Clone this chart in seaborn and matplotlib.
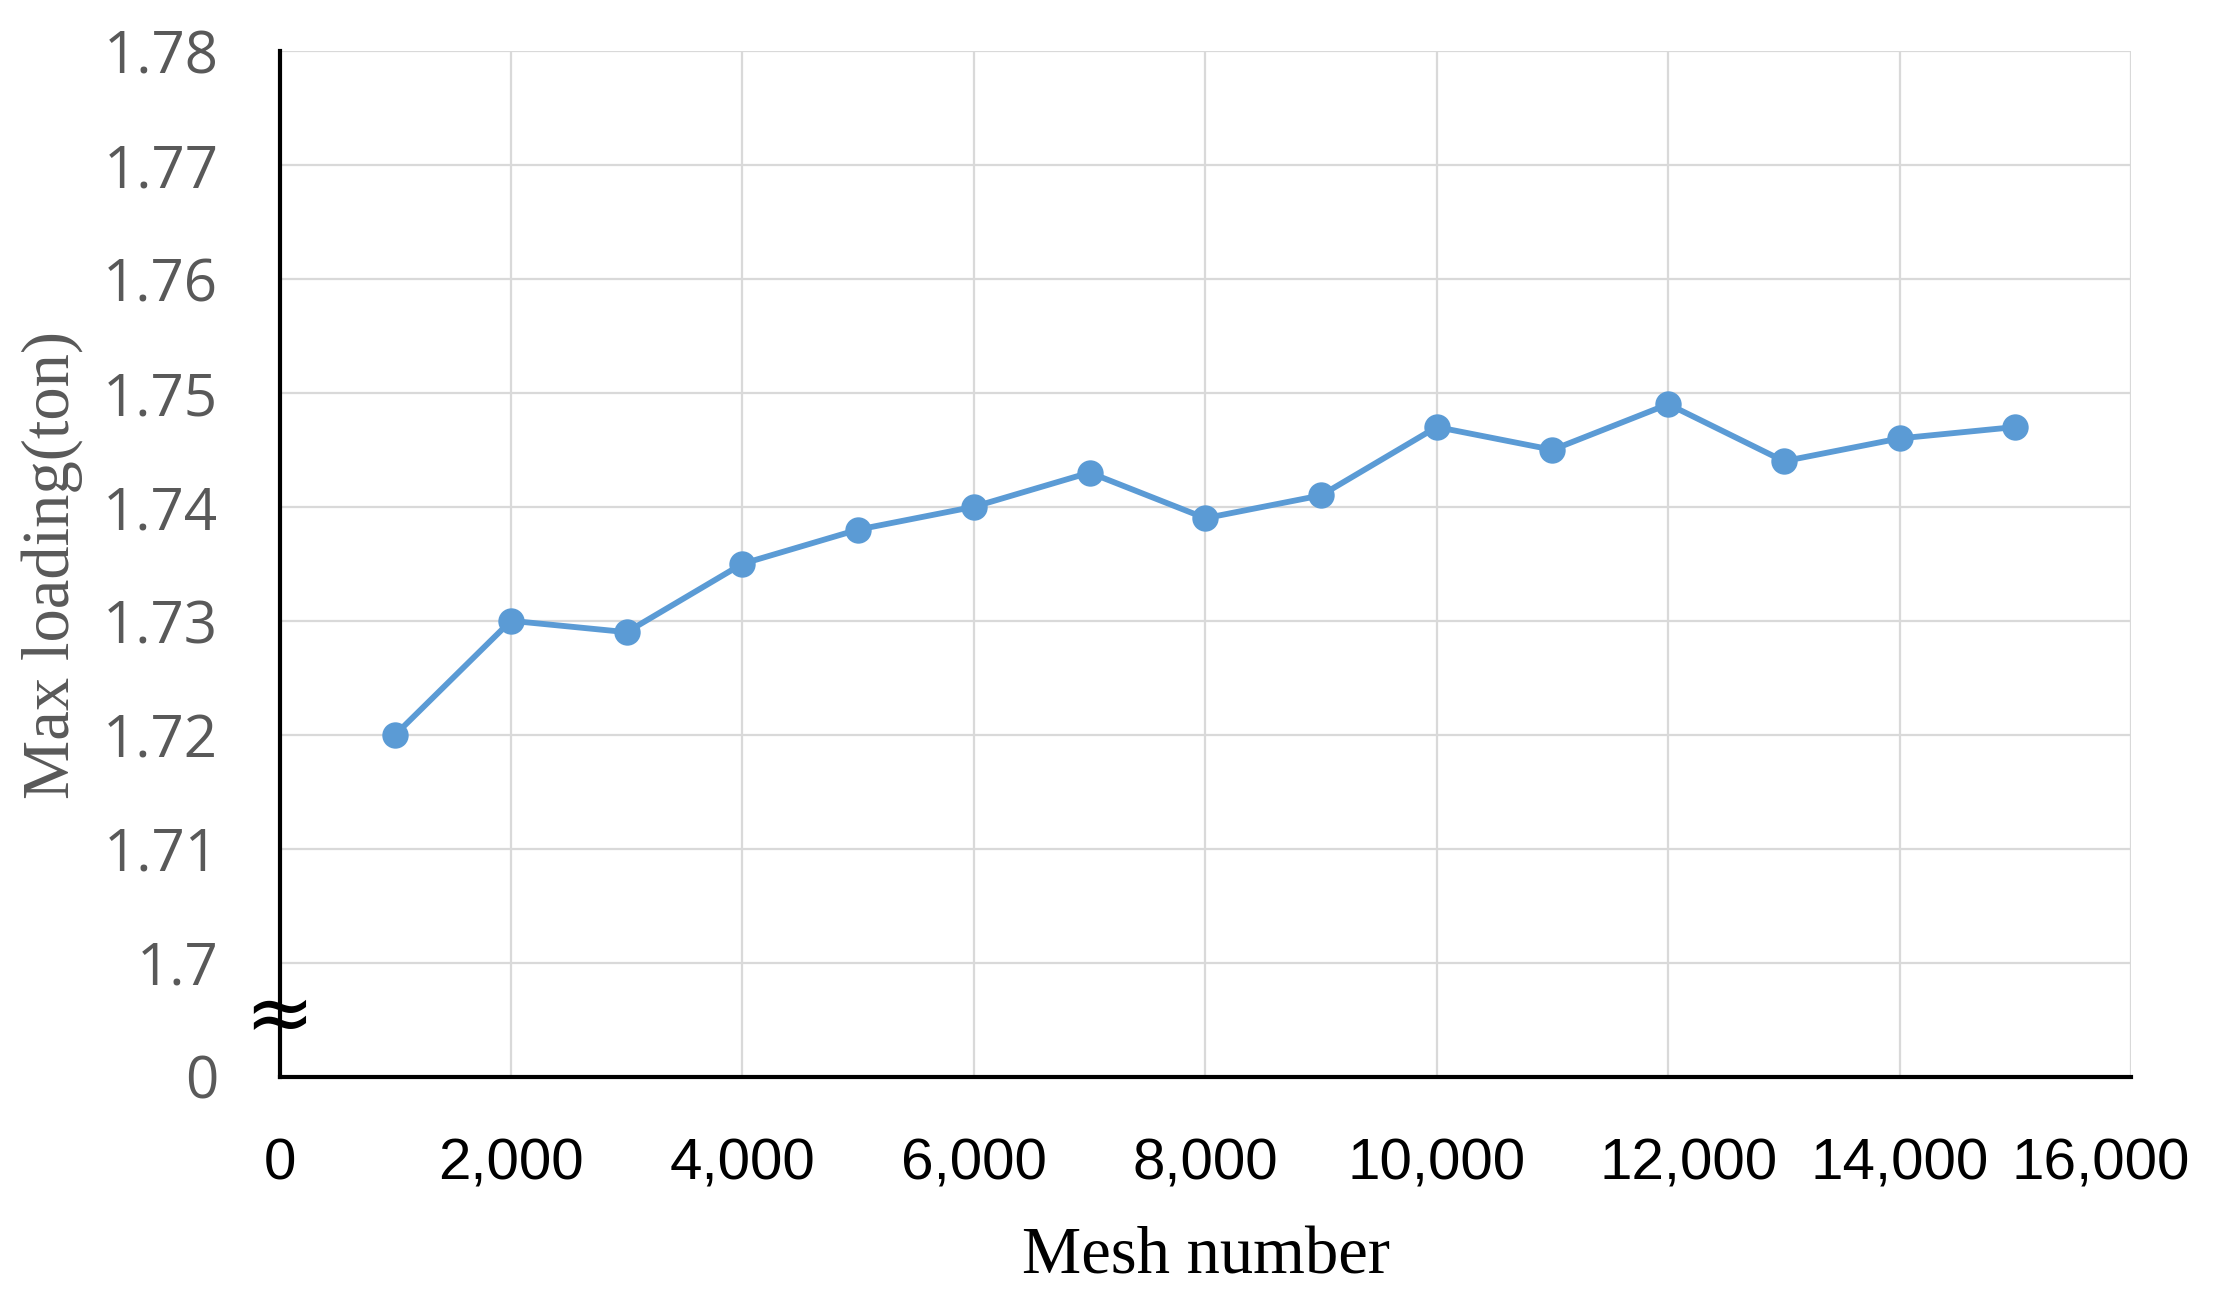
import matplotlib
matplotlib.use('Agg')
import matplotlib.pyplot as plt
import numpy as np
import pandas as pd
import seaborn as sns
from matplotlib.ticker import StrMethodFormatter
from matplotlib.transforms import ScaledTranslation

# data
mesh = [1000, 2000, 3000, 4000, 5000, 6000, 7000, 8000,
        9000, 10000, 11000, 12000, 13000, 14000, 15000]
max_loading = [1.720, 1.730, 1.729, 1.735, 1.738, 1.740, 1.743, 1.739,
               1.741, 1.747, 1.745, 1.749, 1.744, 1.746, 1.747]

x_ticks = [0, 2000, 4000, 6000, 8000, 10000, 12000, 14000, 16000]
# broken axis: the lowest tick stands for 0
y_ticks = [1.69, 1.70, 1.71, 1.72, 1.73, 1.74, 1.75, 1.76, 1.77, 1.78]
y_labels = ['0', '1.7', '1.71', '1.72', '1.73', '1.74', '1.75', '1.76', '1.77', '1.78']

df = pd.DataFrame({'mesh': mesh, 'load': max_loading})

sns.set_style('white')
fig = plt.figure(figsize=(22.13, 13.04), dpi=100)
ax = fig.add_axes([0.1263, 0.1743, 0.8367, 0.7867])

sns.lineplot(data=df, x='mesh', y='load', ax=ax, color='#5B9BD5',
             linewidth=4.2, marker='o', markersize=19,
             markeredgewidth=0, zorder=3)

ax.set_xlim(0, 16000)
ax.set_ylim(1.69, 1.78)
ax.set_xticks(x_ticks)
ax.set_yticks(y_ticks)
ax.set_yticklabels(y_labels)
ax.xaxis.set_major_formatter(StrMethodFormatter('{x:,.0f}'))

ax.grid(True, color='#d9d9d9', linewidth=1.6)
ax.set_axisbelow(True)
for side in ['top', 'right']:
    ax.spines[side].set_visible(False)
for side in ['left', 'bottom']:
    ax.spines[side].set_color('black')
    ax.spines[side].set_linewidth(3)
    ax.spines[side].set_zorder(4)

ax.tick_params(axis='both', length=0)
ax.tick_params(axis='y', pad=44)
ax.tick_params(axis='x', pad=44)
for lab in ax.get_yticklabels():
    lab.set_family('Open Sans')
    lab.set_fontsize(42)
    lab.set_color('#595959')
xlabs = ax.get_xticklabels()
for lab in xlabs:
    lab.set_family('Liberation Sans')
    lab.set_fontsize(42)
    lab.set_color('black')
# the last labels sit a bit left so they stay inside the figure
xlabs[-1].set_transform(xlabs[-1].get_transform()
                        + ScaledTranslation(-0.3, 0, fig.dpi_scale_trans))
xlabs[-3].set_transform(xlabs[-3].get_transform()
                        + ScaledTranslation(0.2, 0, fig.dpi_scale_trans))

ax.set_xlabel('')
ax.set_ylabel('')
fig.text(0.0235, 0.567, 'Max loading(ton)', rotation=90, ha='center', va='center',
         family='Liberation Serif', fontsize=48, color='#595959')
fig.text(0.545, 0.036, 'Mesh number', ha='center', va='center',
         family='Liberation Serif', fontsize=48, color='black')

# axis break mark
fig.text(0.1263, 0.220, '\u2248', ha='center', va='center',
         family='DejaVu Sans', fontsize=60, color='black')

fig.savefig('out.png', dpi=100, facecolor='white')
